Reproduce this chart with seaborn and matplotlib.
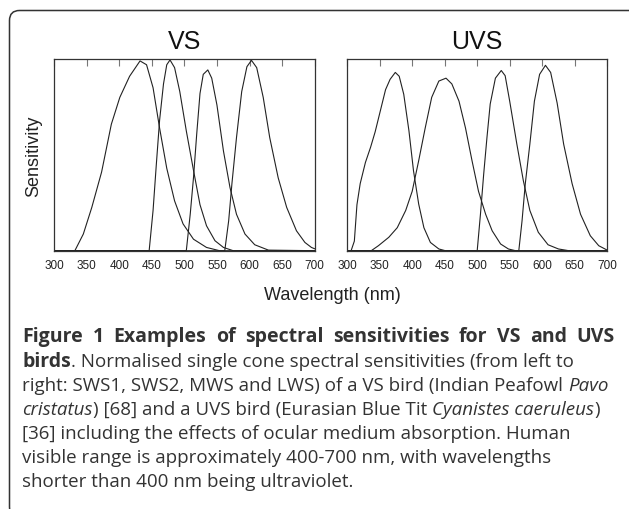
import numpy as np
import pandas as pd
import matplotlib
matplotlib.use("Agg")
import matplotlib.pyplot as plt
import seaborn as sns
from matplotlib.patches import FancyBboxPatch

# VS bird (Indian Peafowl), sampled off the curves
vs_sws1_wl = [300, 332, 345, 358, 373, 388, 401, 416, 432, 442, 452, 462, 473, 485, 498, 514, 534, 554, 700]
vs_sws1_s = [0, 0, 0.087, 0.226, 0.41, 0.66, 0.80, 0.91, 0.99, 0.97, 0.85, 0.64, 0.43, 0.26, 0.14, 0.06, 0.017, 0, 0]
vs_sws2_wl = [300, 446, 452, 457, 462, 468, 473, 478, 485, 493, 503, 514, 524, 534, 547, 560, 575, 700]
vs_sws2_s = [0, 0, 0.21, 0.45, 0.68, 0.87, 0.97, 0.995, 0.955, 0.83, 0.625, 0.42, 0.24, 0.13, 0.052, 0.017, 0, 0]
vs_mws_wl = [300, 503, 509, 514, 519, 524, 529, 536, 542, 550, 560, 570, 580, 593, 608, 629, 700]
vs_mws_s = [0, 0, 0.19, 0.38, 0.61, 0.82, 0.92, 0.943, 0.90, 0.76, 0.52, 0.33, 0.19, 0.087, 0.031, 0.003, 0]
vs_lws_wl = [300, 562, 568, 573, 580, 588, 596, 603, 611, 621, 631, 644, 657, 672, 685, 695, 700]
vs_lws_s = [0, 0, 0.156, 0.35, 0.59, 0.83, 0.96, 0.993, 0.955, 0.80, 0.59, 0.38, 0.226, 0.104, 0.043, 0.017, 0.01]

# UVS bird (Eurasian Blue Tit)
uvs_sws1_wl = [300, 306, 311, 315, 320, 328, 336, 343, 351, 359, 366, 374, 380, 387, 395, 402, 410, 418, 428, 441, 451, 700]
uvs_sws1_s = [0, 0, 0.05, 0.24, 0.35, 0.46, 0.54, 0.62, 0.73, 0.84, 0.894, 0.93, 0.91, 0.816, 0.625, 0.417, 0.243, 0.12, 0.043, 0.009, 0, 0]
uvs_sws2_wl = [300, 337, 348, 364, 377, 390, 400, 410, 420, 430, 441, 452, 461, 472, 482, 492, 502, 513, 523, 536, 548, 559, 700]
uvs_sws2_s = [0, 0, 0.026, 0.07, 0.12, 0.21, 0.31, 0.47, 0.64, 0.80, 0.885, 0.90, 0.87, 0.78, 0.64, 0.47, 0.31, 0.19, 0.104, 0.035, 0.009, 0, 0]
uvs_mws_wl = [300, 500, 505, 510, 515, 520, 528, 537, 543, 550, 561, 571, 581, 594, 609, 625, 641, 700]
uvs_mws_s = [0, 0, 0.19, 0.40, 0.59, 0.765, 0.90, 0.94, 0.913, 0.78, 0.556, 0.365, 0.21, 0.096, 0.031, 0.009, 0, 0]
uvs_lws_wl = [300, 564, 569, 574, 581, 588, 596, 605, 613, 623, 633, 646, 659, 674, 687, 700]
uvs_lws_s = [0, 0, 0.156, 0.35, 0.556, 0.78, 0.92, 0.967, 0.93, 0.77, 0.556, 0.35, 0.19, 0.078, 0.026, 0.003]

panels = {
    "VS": [(vs_sws1_wl, vs_sws1_s), (vs_sws2_wl, vs_sws2_s), (vs_mws_wl, vs_mws_s), (vs_lws_wl, vs_lws_s)],
    "UVS": [(uvs_sws1_wl, uvs_sws1_s), (uvs_sws2_wl, uvs_sws2_s), (uvs_mws_wl, uvs_mws_s), (uvs_lws_wl, uvs_lws_s)],
}
xticks = list(range(300, 701, 50))

caption_title = "Figure 1 Examples of spectral sensitivities for VS and UVS"
caption_lines = [
    [("birds", "bold"), (". Normalised single cone spectral sensitivities (from left to", "normal")],
    [("right: SWS1, SWS2, MWS and LWS) of a VS bird (Indian Peafowl ", "normal"), ("Pavo", "italic")],
    [("cristatus", "italic"), (") [68] and a UVS bird (Eurasian Blue Tit ", "normal"),
     ("Cyanistes caeruleus", "italic"), (")", "normal")],
    [("[36] including the effects of ocular medium absorption. Human", "normal")],
    [("visible range is approximately 400-700 nm, with wavelengths", "normal")],
    [("shorter than 400 nm being ultraviolet.", "normal")],
]

sns.set_style("white")
plt.rcParams["font.family"] = ["Liberation Sans", "DejaVu Sans"]

W, H = 629, 510
fig = plt.figure(figsize=(W / 100, H / 100), dpi=100)


def px_box(x0, y0, x1, y1):
    return [x0 / W, 1 - y1 / H, (x1 - x0) / W, (y1 - y0) / H]


ax1 = fig.add_axes(px_box(54, 60, 314.7, 251.7))
ax2 = fig.add_axes(px_box(347.2, 60, 607.2, 251.7))

for ax, (name, curves) in zip([ax1, ax2], panels.items()):
    for wl, s in curves:
        sns.lineplot(x=wl, y=s, ax=ax, color="#222222", lw=0.8, sort=False, estimator=None)
    ax.set_xlim(300, 700)
    ax.set_ylim(0, 1.0)
    ax.set_xticks(xticks)
    ax.set_yticks([])
    ax.tick_params(axis="x", direction="in", top=True, length=5, width=0.8,
                   color="#777777", labelsize=8.5, labelcolor="#222222", pad=6)
    for sp in ax.spines.values():
        sp.set_color("#333333")
        sp.set_linewidth(0.9)
    ax.set_title(name, fontsize=18, pad=8, color="#111111")

ax1.set_ylabel("Sensitivity", fontsize=13, color="#222222")
ax1.yaxis.set_label_coords(-0.046, 0.5)
fig.text(332 / W, 1 - 295 / H, "Wavelength (nm)", ha="center", va="center", fontsize=13, color="#222222")

# rounded frame around figure + caption (inches, so the corner stays round)
frame = FancyBboxPatch((9.5 / 100, -8 / 100), 630 / 100, 506.5 / 100,
                       boxstyle="round,pad=0,rounding_size=0.1",
                       transform=fig.dpi_scale_trans, fill=False, ec="#333333", lw=1.1)
fig.add_artist(frame)

# caption, drawn run by run
renderer = fig.canvas.get_renderer()
cap_family = ["Open Sans", "DejaVu Sans"]
cap_color = "#333333"
sizes = {"bold": 14, "normal": 13.5, "italic": 13.5}


def style_kw(style):
    kw = dict(fontsize=sizes[style], color=cap_color, family=cap_family, va="baseline", ha="left")
    if style == "bold":
        kw["fontweight"] = "bold"
    if style == "italic":
        kw["fontstyle"] = "italic"
    return kw


def width_of(text, kw):
    t = fig.text(0, 0, text, **kw)
    w = t.get_window_extent(renderer).width
    t.remove()
    return w


def run_text(x, y, text, style):
    kw = style_kw(style)
    sp = width_of("a a", kw) - width_of("aa", kw)
    core = text.strip()
    lead = len(text) - len(text.lstrip())
    trail = len(text) - len(text.rstrip())
    x += lead * sp
    t = fig.text(x / W, 1 - y / H, core, **kw)
    return x + t.get_window_extent(renderer).width + trail * sp


x_left, x_right = 22.5, 615
y0 = 342.5
pitch = 24.1

# bold heading line is set justified to the full width
kw = style_kw("bold")
words = caption_title.split()
widths = [width_of(w, kw) for w in words]
gap = (x_right - x_left - sum(widths)) / (len(words) - 1)
x = x_left
for w, wd in zip(words, widths):
    fig.text(x / W, 1 - y0 / H, w, **kw)
    x += wd + gap

for i, runs in enumerate(caption_lines, start=1):
    x = x_left
    for text, style in runs:
        x = run_text(x, y0 + i * pitch, text, style)

fig.savefig("out.png", dpi=100)
